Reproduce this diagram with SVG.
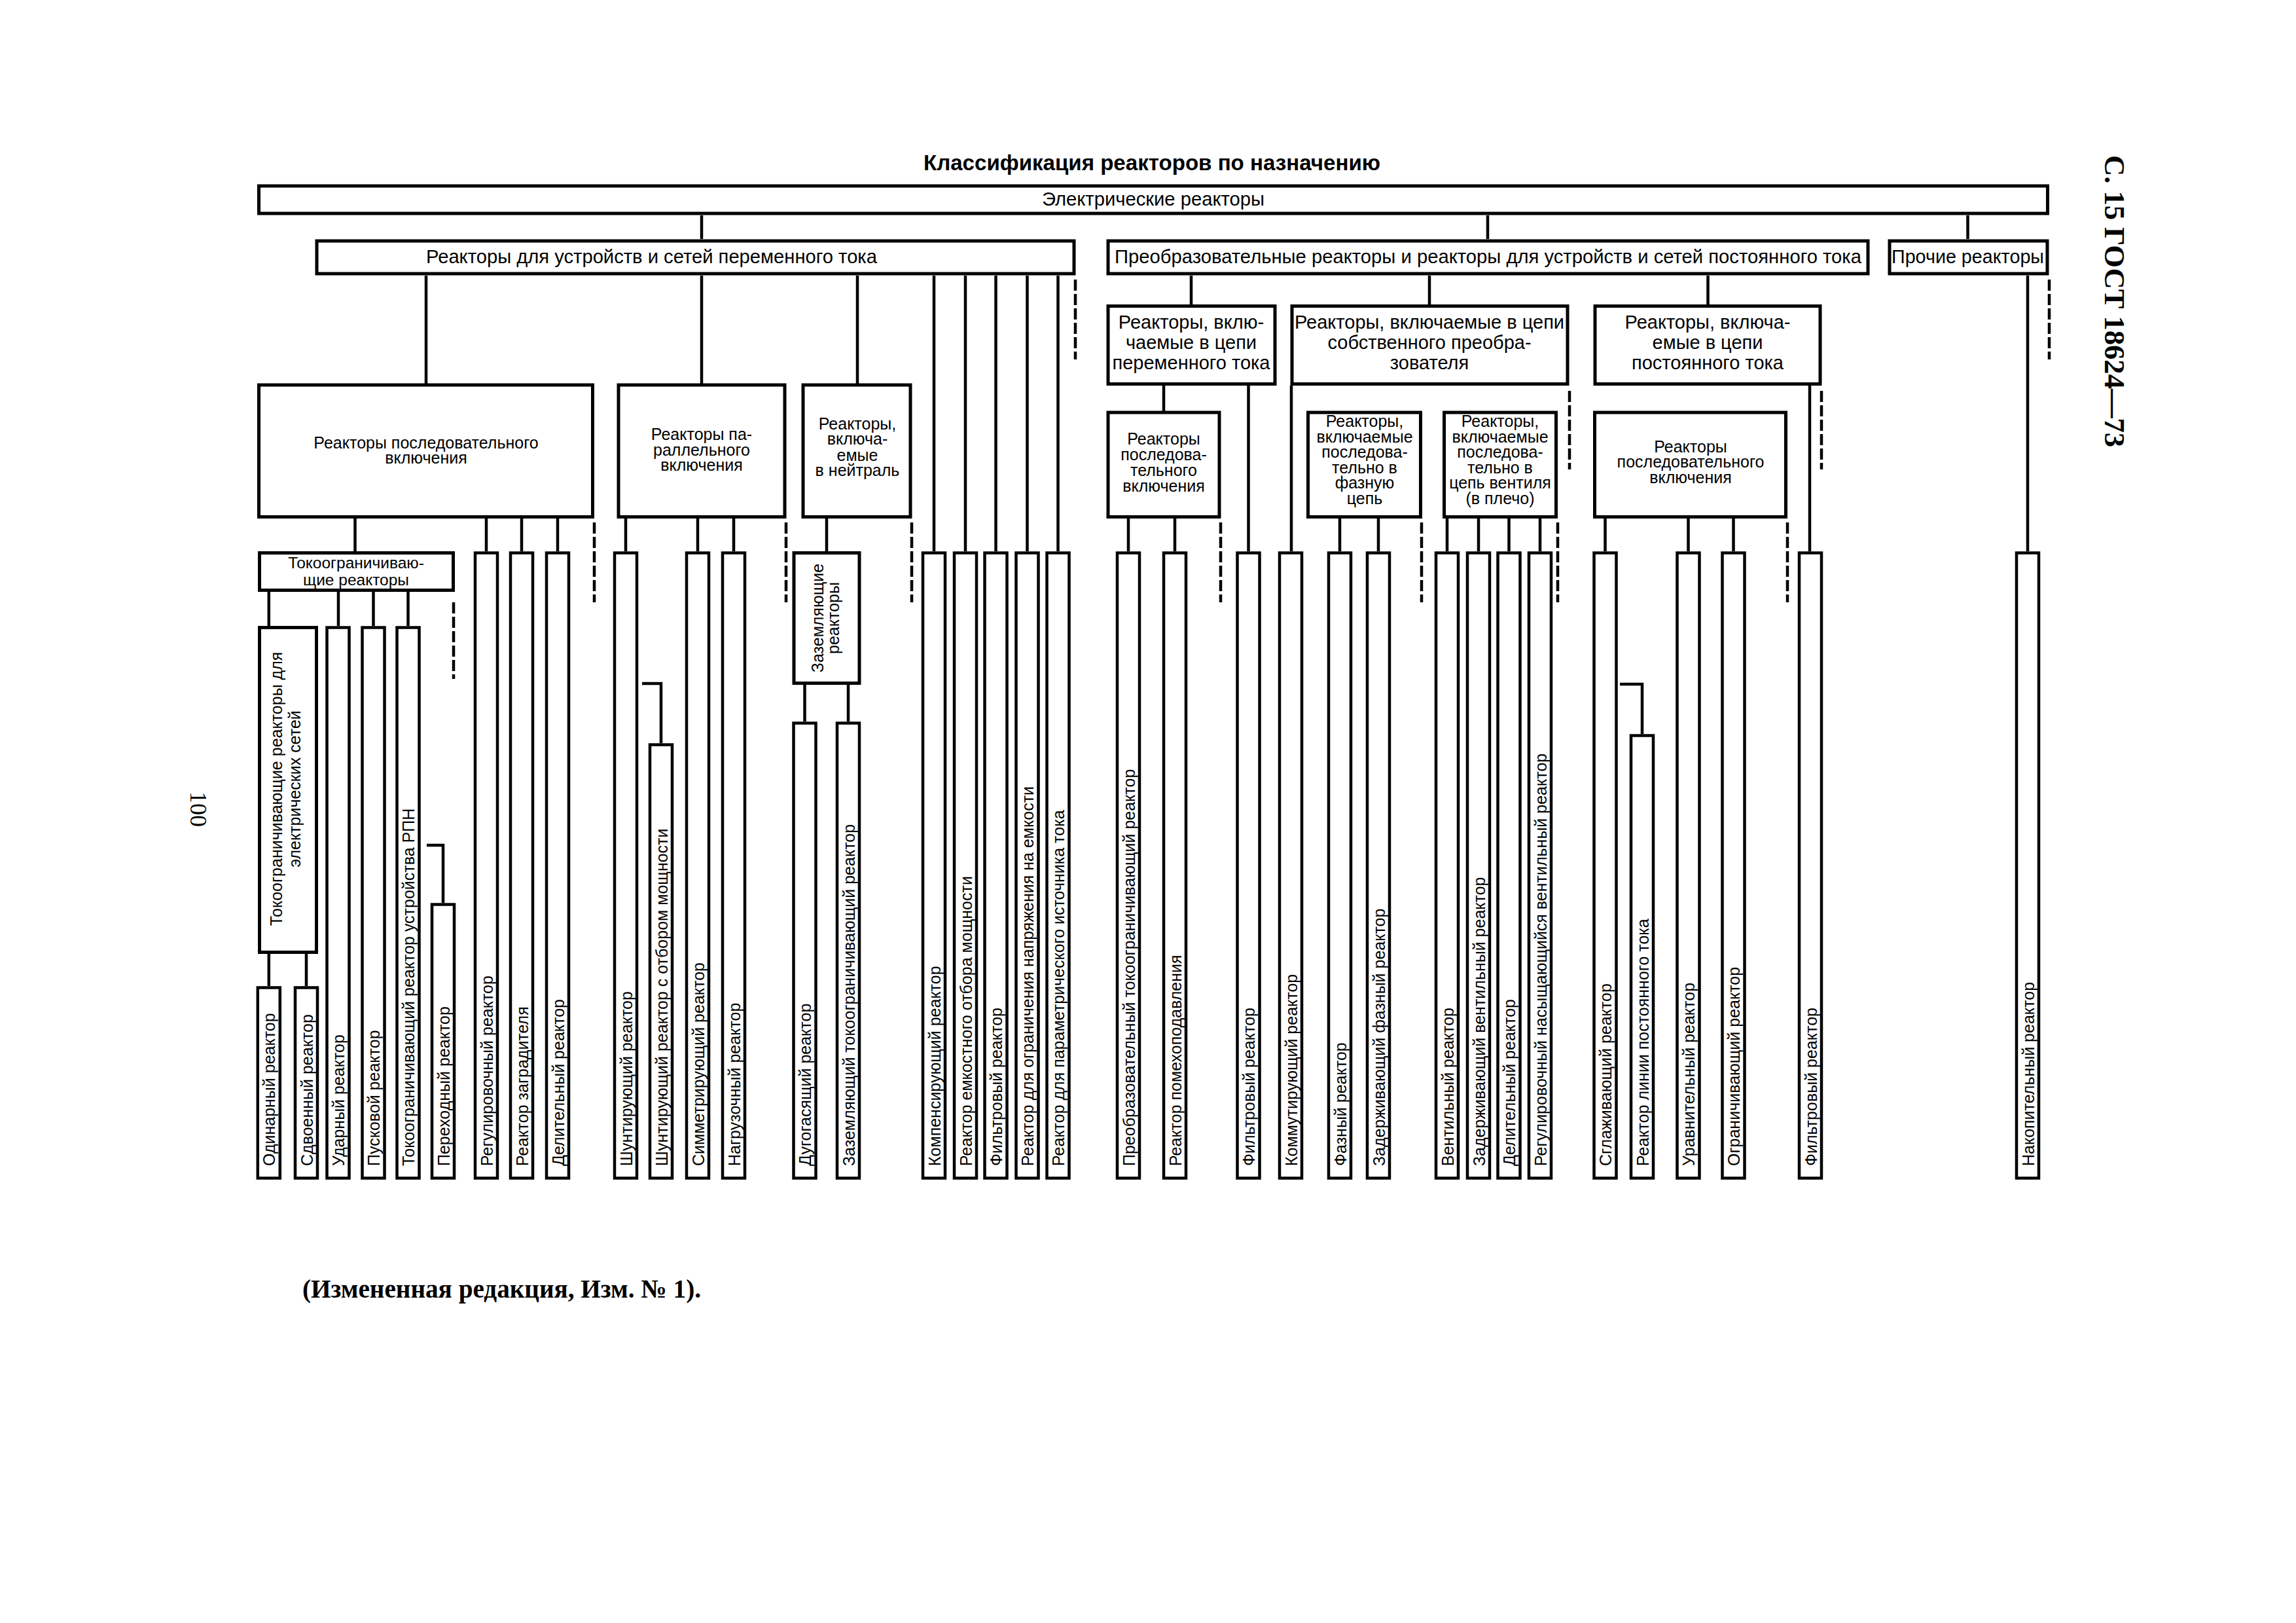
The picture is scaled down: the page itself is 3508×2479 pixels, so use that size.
<svg xmlns="http://www.w3.org/2000/svg" width="3508" height="2479" viewBox="0 0 3508 2479">
<style>
.bx{fill:#fff;stroke:#000;stroke-width:5}
.sb{fill:#fff;stroke:#000;stroke-width:4.5}
.ln{fill:none;stroke:#000;stroke-width:4.5}
.ds{fill:none;stroke:#000;stroke-width:4.5;stroke-dasharray:17 5}
.t{font-family:"Liberation Sans",Arial,sans-serif;fill:#000}
.m{text-anchor:middle}
.f29{font-size:29px}
.f25{font-size:25px}
.f24{font-size:24.5px}
.v{font-family:"Liberation Sans",Arial,sans-serif;font-size:25px;fill:#000}
.sr{font-family:"Liberation Serif","Times New Roman",serif;fill:#000}
</style>
<rect width="3508" height="2479" fill="#fff"/>

<text class="t m" x="1760" y="260" font-size="33" font-weight="bold" textLength="698" lengthAdjust="spacingAndGlyphs">Классификация реакторов по назначению</text>
<text class="sr" transform="translate(3216,237) rotate(90)" font-size="44" font-weight="bold" textLength="446" lengthAdjust="spacingAndGlyphs">С. 15 ГОСТ 18624—73</text>
<text class="sr" transform="translate(291,1209) rotate(90)" font-size="36">100</text>
<text class="sr" x="462" y="1982" font-size="40" font-weight="bold" textLength="609" lengthAdjust="spacingAndGlyphs">(Измененная редакция, Изм. № 1).</text>

<g id="connectors">
<path class="ln" d="M1072,329V365M2273,329V365M3006.5,329V365"/>
<path class="ln" d="M651,421V586M1072,421V586M1310,421V586M1427,421V842M1475,421V842M1521.5,421V842M1569.5,421V842M1616.5,421V842"/>
<path class="ln" d="M1820,421V465M2184,421V465M2609.5,421V465M3098,421V842"/>
<path class="ln" d="M542.5,792V842M743,792V842M797,792V842M852,792V842M956,792V842M1066,792V842M1121,792V842M1263,792V842"/>
<path class="ln" d="M410.8,904V956M517,904V956M570.5,904V956M623.5,904V956"/>
<path class="ln" d="M410.8,1457V1506M468,1457V1506M652,1291H677V1379M981,1044H1010V1135M1229.5,1046V1102M1296,1046V1102"/>
<path class="ln" d="M1778,589V628M1907.5,589V842M1973,589V842M2765,589V842"/>
<path class="ln" d="M1724,792V842M1795,792V842M2047,792V842M2106,792V842M2211,792V842M2259,792V842M2305.5,792V842M2353,792V842M2452.5,792V842M2579.5,792V842M2648.5,792V842M2475,1045H2509V1121"/>
<path class="ds" d="M1643,427V549M3131,427V549M2398,597V717M2783,597V717M908,798V920M1201,798V920M1393,798V920M1865,798V920M2172,798V920M2380,798V920M2731,798V920M693,920V1037"/>
</g>

<g id="n-electric"><rect class="bx" x="395.5" y="284" width="2733" height="42"/><text class="t m f29" x="1762" y="314" textLength="340" lengthAdjust="spacingAndGlyphs">Электрические реакторы</text></g>
<g id="n-ac"><rect class="bx" x="484" y="368" width="1157" height="50"/><text class="t m f29" x="995.5" y="402" textLength="689" lengthAdjust="spacingAndGlyphs">Реакторы для устройств и сетей переменного тока</text></g>
<g id="n-dc"><rect class="bx" x="1693" y="368" width="1161" height="50"/><text class="t m f29" x="2273.5" y="402" textLength="1141" lengthAdjust="spacingAndGlyphs">Преобразовательные реакторы и реакторы для устройств и сетей постоянного тока</text></g>
<g id="n-other"><rect class="bx" x="2887" y="368" width="241" height="50"/><text class="t m f29" x="3006.5" y="402" textLength="233" lengthAdjust="spacingAndGlyphs">Прочие реакторы</text></g>

<g id="n-series"><rect class="bx" x="395.5" y="588" width="510" height="201.5"/><text class="t m f25"><tspan x="651" y="685">Реакторы последовательного</tspan><tspan x="651" y="708">включения</tspan></text></g>
<g id="n-parallel"><rect class="bx" x="945" y="588" width="254" height="201.5"/><text class="t m f25"><tspan x="1072" y="672">Реакторы па-</tspan><tspan x="1072" y="696">раллельного</tspan><tspan x="1072" y="719">включения</tspan></text></g>
<g id="n-neutral"><rect class="bx" x="1227" y="588" width="164" height="201.5"/><text class="t m f25"><tspan x="1310" y="656">Реакторы,</tspan><tspan x="1310" y="679">включа-</tspan><tspan x="1310" y="704">емые</tspan><tspan x="1310" y="727">в нейтраль</tspan></text></g>

<g id="n-dc-ac"><rect class="bx" x="1693" y="467.5" width="255" height="119"/><text class="t m f29"><tspan x="1820" y="502">Реакторы, вклю-</tspan><tspan x="1820" y="533">чаемые в цепи</tspan><tspan x="1820" y="564">переменного тока</tspan></text></g>
<g id="n-dc-own"><rect class="bx" x="1974" y="467.5" width="421" height="119"/><text class="t m f29"><tspan x="2184" y="502">Реакторы, включаемые в цепи</tspan><tspan x="2184" y="533">собственного преобра-</tspan><tspan x="2184" y="564">зователя</tspan></text></g>
<g id="n-dc-dc"><rect class="bx" x="2437" y="467.5" width="344" height="119"/><text class="t m f29"><tspan x="2609" y="502">Реакторы, включа-</tspan><tspan x="2609" y="533">емые в цепи</tspan><tspan x="2609" y="564">постоянного тока</tspan></text></g>

<g id="n-a1"><rect class="bx" x="1693" y="630" width="170" height="159.5"/><text class="t m f25"><tspan x="1778" y="679">Реакторы</tspan><tspan x="1778" y="703">последова-</tspan><tspan x="1778" y="727">тельного</tspan><tspan x="1778" y="751">включения</tspan></text></g>
<g id="n-b1"><rect class="bx" x="1998.5" y="630" width="172" height="159.5"/><text class="t m f25"><tspan x="2085" y="652">Реакторы,</tspan><tspan x="2085" y="675.5">включаемые</tspan><tspan x="2085" y="699">последова-</tspan><tspan x="2085" y="722.5">тельно в</tspan><tspan x="2085" y="746">фазную</tspan><tspan x="2085" y="769.5">цепь</tspan></text></g>
<g id="n-b2"><rect class="bx" x="2206.5" y="630" width="171" height="159.5"/><text class="t m f25"><tspan x="2292" y="652">Реакторы,</tspan><tspan x="2292" y="675.5">включаемые</tspan><tspan x="2292" y="699">последова-</tspan><tspan x="2292" y="722.5">тельно в</tspan><tspan x="2292" y="746">цепь вентиля</tspan><tspan x="2292" y="769.5">(в плечо)</tspan></text></g>
<g id="n-c1"><rect class="bx" x="2436.5" y="630" width="292" height="159.5"/><text class="t m f25"><tspan x="2583" y="691">Реакторы</tspan><tspan x="2583" y="714">последовательного</tspan><tspan x="2583" y="738">включения</tspan></text></g>

<g id="n-toko"><rect class="bx" x="396.5" y="844.5" width="296" height="57"/><text class="t m f24"><tspan x="544" y="868">Токоограничиваю-</tspan><tspan x="544" y="894">щие реакторы</tspan></text></g>
<g id="n-toko-net"><rect class="bx" x="396.5" y="958.5" width="87" height="496"/><text class="v m" transform="translate(431,1205) rotate(-90)">Токоограничивающие реакторы для</text><text class="v m" transform="translate(459,1205) rotate(-90)">электрических сетей</text></g>
<g id="n-ground"><rect class="bx" x="1213" y="844.5" width="100" height="199"/><text class="v m" transform="translate(1258,944) rotate(-90)">Заземляющие</text><text class="v m" transform="translate(1282,944) rotate(-90)">реакторы</text></g>

<g id="n-b01"><rect class="sb" x="393.8" y="1508.5" width="34" height="291"/><text class="v" transform="translate(420.3,1781) rotate(-90)">Одинарный реактор</text></g>
<g id="n-b02"><rect class="sb" x="451" y="1508.5" width="34" height="291"/><text class="v" transform="translate(477.5,1781) rotate(-90)">Сдвоенный реактор</text></g>
<g id="n-b03"><rect class="sb" x="499.5" y="958.5" width="34" height="841"/><text class="v" transform="translate(526,1781) rotate(-90)">Ударный реактор</text></g>
<g id="n-b04"><rect class="sb" x="553.5" y="958.5" width="34" height="841"/><text class="v" transform="translate(580,1781) rotate(-90)">Пусковой реактор</text></g>
<g id="n-b05"><rect class="sb" x="606.5" y="958.5" width="34" height="841"/><text class="v" transform="translate(633,1781) rotate(-90)">Токоограничивающий реактор устройства РПН</text></g>
<g id="n-b06"><rect class="sb" x="660" y="1381.5" width="34" height="418"/><text class="v" transform="translate(686.5,1781) rotate(-90)">Переходный реактор</text></g>
<g id="n-b07"><rect class="sb" x="726" y="844.5" width="34" height="955"/><text class="v" transform="translate(752.5,1781) rotate(-90)">Регулировочный реактор</text></g>
<g id="n-b08"><rect class="sb" x="780" y="844.5" width="34" height="955"/><text class="v" transform="translate(806.5,1781) rotate(-90)">Реактор заградителя</text></g>
<g id="n-b09"><rect class="sb" x="835" y="844.5" width="34" height="955"/><text class="v" transform="translate(861.5,1781) rotate(-90)">Делительный реактор</text></g>
<g id="n-b10"><rect class="sb" x="939" y="844.5" width="34" height="955"/><text class="v" transform="translate(965.5,1781) rotate(-90)">Шунтирующий реактор</text></g>
<g id="n-b11"><rect class="sb" x="993" y="1137.5" width="34" height="662"/><text class="v" transform="translate(1019.5,1781) rotate(-90)">Шунтирующий реактор с отбором мощности</text></g>
<g id="n-b12"><rect class="sb" x="1049" y="844.5" width="34" height="955"/><text class="v" transform="translate(1075.5,1781) rotate(-90)">Симметрирующий реактор</text></g>
<g id="n-b13"><rect class="sb" x="1104" y="844.5" width="34" height="955"/><text class="v" transform="translate(1130.5,1781) rotate(-90)">Нагрузочный реактор</text></g>
<g id="n-b14"><rect class="sb" x="1212.5" y="1104.5" width="34" height="695"/><text class="v" transform="translate(1239,1781) rotate(-90)">Дугогасящий реактор</text></g>
<g id="n-b15"><rect class="sb" x="1279" y="1104.5" width="34" height="695"/><text class="v" transform="translate(1305.5,1781) rotate(-90)">Заземляющий токоограничивающий реактор</text></g>
<g id="n-b16"><rect class="sb" x="1410" y="844.5" width="34" height="955"/><text class="v" transform="translate(1436.5,1781) rotate(-90)">Компенсирующий реактор</text></g>
<g id="n-b17"><rect class="sb" x="1458" y="844.5" width="34" height="955"/><text class="v" transform="translate(1484.5,1781) rotate(-90)">Реактор емкостного отбора мощности</text></g>
<g id="n-b18"><rect class="sb" x="1504.5" y="844.5" width="34" height="955"/><text class="v" transform="translate(1531,1781) rotate(-90)">Фильтровый реактор</text></g>
<g id="n-b19"><rect class="sb" x="1552.5" y="844.5" width="34" height="955"/><text class="v" transform="translate(1579,1781) rotate(-90)">Реактор для ограничения напряжения на емкости</text></g>
<g id="n-b20"><rect class="sb" x="1599.5" y="844.5" width="34" height="955"/><text class="v" transform="translate(1626,1781) rotate(-90)">Реактор для параметрического источника тока</text></g>
<g id="n-b21"><rect class="sb" x="1707" y="844.5" width="34" height="955"/><text class="v" transform="translate(1733.5,1781) rotate(-90)">Преобразовательный токоограничивающий реактор</text></g>
<g id="n-b22"><rect class="sb" x="1778" y="844.5" width="34" height="955"/><text class="v" transform="translate(1804.5,1781) rotate(-90)">Реактор помехоподавления</text></g>
<g id="n-b23"><rect class="sb" x="1890.5" y="844.5" width="34" height="955"/><text class="v" transform="translate(1917,1781) rotate(-90)">Фильтровый реактор</text></g>
<g id="n-b24"><rect class="sb" x="1955" y="844.5" width="34" height="955"/><text class="v" transform="translate(1981.5,1781) rotate(-90)">Коммутирующий реактор</text></g>
<g id="n-b25"><rect class="sb" x="2030" y="844.5" width="34" height="955"/><text class="v" transform="translate(2056.5,1781) rotate(-90)">Фазный реактор</text></g>
<g id="n-b26"><rect class="sb" x="2089" y="844.5" width="34" height="955"/><text class="v" transform="translate(2115.5,1781) rotate(-90)">Задерживающий фазный реактор</text></g>
<g id="n-b27"><rect class="sb" x="2194" y="844.5" width="34" height="955"/><text class="v" transform="translate(2220.5,1781) rotate(-90)">Вентильный реактор</text></g>
<g id="n-b28"><rect class="sb" x="2242" y="844.5" width="34" height="955"/><text class="v" transform="translate(2268.5,1781) rotate(-90)">Задерживающий вентильный реактор</text></g>
<g id="n-b29"><rect class="sb" x="2288.5" y="844.5" width="34" height="955"/><text class="v" transform="translate(2315,1781) rotate(-90)">Делительный реактор</text></g>
<g id="n-b30"><rect class="sb" x="2336" y="844.5" width="34" height="955"/><text class="v" transform="translate(2362.5,1781) rotate(-90)">Регулировочный насыщающийся вентильный реактор</text></g>
<g id="n-b31"><rect class="sb" x="2435.5" y="844.5" width="34" height="955"/><text class="v" transform="translate(2462,1781) rotate(-90)">Сглаживающий реактор</text></g>
<g id="n-b32"><rect class="sb" x="2492" y="1123.5" width="34" height="676"/><text class="v" transform="translate(2518.5,1781) rotate(-90)">Реактор линии постоянного тока</text></g>
<g id="n-b33"><rect class="sb" x="2562.5" y="844.5" width="34" height="955"/><text class="v" transform="translate(2589,1781) rotate(-90)">Уравнительный реактор</text></g>
<g id="n-b34"><rect class="sb" x="2631.5" y="844.5" width="34" height="955"/><text class="v" transform="translate(2658,1781) rotate(-90)">Ограничивающий реактор</text></g>
<g id="n-b35"><rect class="sb" x="2749" y="844.5" width="34" height="955"/><text class="v" transform="translate(2775.5,1781) rotate(-90)">Фильтровый реактор</text></g>
<g id="n-b36"><rect class="sb" x="3081" y="844.5" width="34" height="955"/><text class="v" transform="translate(3107.5,1781) rotate(-90)">Накопительный реактор</text></g>
</svg>
